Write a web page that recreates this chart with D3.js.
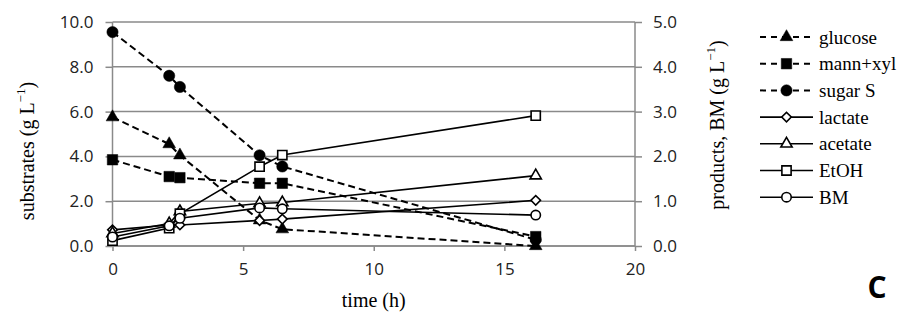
<!DOCTYPE html>
<html>
<head>
<meta charset="utf-8">
<script src="https://cdn.jsdelivr.net/npm/d3@7"></script>
<style>
  html, body { margin: 0; padding: 0; background: #fff; }
  svg { display: block; }
</style>
</head>
<body>
<svg id="chart" width="910" height="319"></svg>
<script>
// ---- data ----
const time = [0, 2.17, 2.58, 5.63, 6.5, 16.2];
const glucose = [5.75, 4.55, 4.05, 1.15, 0.75, 0.0];
const mannXyl = [3.85, 3.1, 3.05, 2.8, 2.8, 0.42];
const sugarS = [9.55, 7.6, 7.1, 4.05, 3.55, 0.28];
const lactate = [0.36, 0.47, 0.47, 0.57, 0.6, 1.02];
const acetate = [0.28, 0.5, 0.77, 0.95, 0.97, 1.57];
const EtOH = [0.12, 0.4, 0.72, 1.77, 2.03, 2.91];
const BM = [0.2, 0.45, 0.62, 0.85, 0.83, 0.69];

const xTicks = [0, 5, 10, 15, 20];
const yLeftTicks = [0, 2, 4, 6, 8, 10];
const yRightTicks = [0, 1, 2, 3, 4, 5];

const seriesNames = ["glucose", "mann+xyl", "sugar S", "lactate", "acetate", "EtOH", "BM"];
const seriesValues = [glucose, mannXyl, sugarS, lactate, acetate, EtOH, BM];
const seriesAxis = ["left", "left", "left", "right", "right", "right", "right"];
const seriesDashed = [true, true, true, false, false, false, false];
const seriesSymbol = ["triangle", "square", "circle", "diamond", "triangle", "square", "circle"];
const seriesFilled = [true, true, true, false, false, false, false];

// ---- layout ----
const svg = d3.select("#chart");
const L = 112.5, R = 635, T = 22, B = 246;
const gridColor = "#8a8a8a";
const sansFont = "'Open Sans', sans-serif";
const serifFont = "'Liberation Serif', 'Times New Roman', serif";

const x = d3.scaleLinear().domain([0, 20]).range([L, R]);
const yL = d3.scaleLinear().domain([0, 10]).range([B, T]);
const yR = d3.scaleLinear().domain([0, 5]).range([B, T]);

// gridlines
svg.append("g").selectAll("line").data(yLeftTicks).join("line")
  .attr("x1", L).attr("x2", R)
  .attr("y1", d => yL(d)).attr("y2", d => yL(d))
  .attr("stroke", gridColor).attr("stroke-width", 1.5);

// left axis
const axL = svg.append("g").attr("transform", `translate(${L},0)`)
  .call(d3.axisLeft(yL).tickValues(yLeftTicks).tickFormat(d3.format(".1f")).tickSize(7).tickPadding(12));
// right axis
const axR = svg.append("g").attr("transform", `translate(${R},0)`)
  .call(d3.axisRight(yR).tickValues(yRightTicks).tickFormat(d3.format(".1f")).tickSize(7).tickPadding(11));
// bottom axis
const axB = svg.append("g").attr("transform", `translate(0,${B})`)
  .call(d3.axisBottom(x).tickValues(xTicks).tickFormat(d3.format("d")).tickSize(5).tickPadding(12));

[axL, axR, axB].forEach(a => {
  a.select(".domain").attr("stroke", gridColor).attr("stroke-width", 1.5);
  a.selectAll(".tick line").attr("stroke", gridColor).attr("stroke-width", 1.5);
  a.selectAll(".tick text").attr("font-family", sansFont).attr("font-size", 17).attr("fill", "#222");
});
axB.select(".domain").attr("d", `M${L},0H${R}`);
axL.select(".domain").attr("d", `M0,${T}V${B}`);
axR.select(".domain").attr("d", `M0,${T}V${B}`);

// ---- series ----
const symType = { triangle: d3.symbolTriangle, square: d3.symbolSquare, circle: d3.symbolCircle, diamond: d3.symbolSquare };
const symSize = (name, filled) => {
  if (filled) return { triangle: 70, square: 110, circle: 100, diamond: 80 }[name];
  return { triangle: 55, square: 85, circle: 70, diamond: 46 }[name];
};

function drawMarker(g, name, filled, cx, cy) {
  g.append("path")
    .attr("d", d3.symbol().type(symType[name]).size(symSize(name, filled))())
    .attr("transform", `translate(${cx},${cy})` + (name === "diamond" ? " rotate(45)" : ""))
    .attr("fill", filled ? "#000" : "#fff")
    .attr("stroke", "#000")
    .attr("stroke-width", filled ? 0.5 : 1.6);
}

const plot = svg.append("g");
seriesNames.forEach((name, i) => {
  const ys = seriesAxis[i] === "left" ? yL : yR;
  const vals = seriesValues[i];
  const pts = time.map((t, k) => [x(t), ys(vals[k])]);
  const g = plot.append("g");
  g.append("path")
    .attr("d", d3.line()(pts))
    .attr("fill", "none")
    .attr("stroke", "#000")
    .attr("stroke-width", seriesDashed[i] ? 2 : 1.6)
    .attr("stroke-dasharray", seriesDashed[i] ? "7,4" : null);
  pts.forEach(p => drawMarker(g, seriesSymbol[i], seriesFilled[i], p[0], p[1]));
});

// ---- axis titles ----
function titleWithSup(g, pre, sup, post) {
  const t = g.append("text").attr("font-family", serifFont).attr("font-size", 20).attr("fill", "#000")
    .attr("text-anchor", "middle").attr("dominant-baseline", "central");
  t.append("tspan").text(pre);
  t.append("tspan").text(sup).attr("font-size", 13).attr("dy", -7);
  t.append("tspan").text(post).attr("dy", 7);
  return t;
}
titleWithSup(svg.append("g").attr("transform", "translate(27,151) rotate(-90)"), "substrates (g L", "\u22121", ")");
titleWithSup(svg.append("g").attr("transform", "translate(717,125) rotate(-90)"), "products, BM (g L", "\u22121", ")");
svg.append("text").attr("x", (L + R) / 2).attr("y", 300)
  .attr("font-family", serifFont).attr("font-size", 20).attr("text-anchor", "middle")
  .attr("dominant-baseline", "central").text("time (h)");

// ---- legend ----
const leg = svg.append("g");
const legY0 = 37, legDy = 26.7;
seriesNames.forEach((name, i) => {
  const yy = legY0 + i * legDy;
  leg.append("line").attr("x1", 760).attr("x2", 813).attr("y1", yy).attr("y2", yy)
    .attr("stroke", "#000").attr("stroke-width", seriesDashed[i] ? 2 : 1.6)
    .attr("stroke-dasharray", seriesDashed[i] ? "6,5" : null);
  drawMarker(leg, seriesSymbol[i], seriesFilled[i], 786.5, yy);
  leg.append("text").attr("x", 819).attr("y", yy)
    .attr("font-family", serifFont).attr("font-size", 19)
    .attr("dominant-baseline", "central").text(name);
});

// panel letter
svg.append("text").attr("x", 877).attr("y", 286)
  .attr("font-family", sansFont).attr("font-weight", "bold").attr("font-size", 30)
  .attr("text-anchor", "middle").attr("dominant-baseline", "central").text("C");
</script>
</body>
</html>
